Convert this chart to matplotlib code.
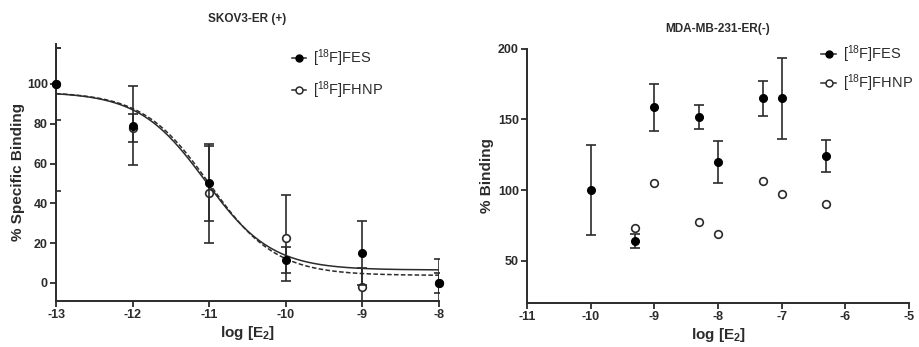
import numpy as np
import matplotlib.pyplot as plt
from matplotlib.lines import Line2D

plt.rcParams['font.family'] = ['Liberation Sans', 'DejaVu Sans']
plt.rcParams['font.weight'] = 'bold'
plt.rcParams['axes.unicode_minus'] = False
plt.rcParams['mathtext.default'] = 'regular'

ink = '#2b2b2b'

# SKOV3-ER (+) competition data
skov_x = [-13, -12, -11, -10, -9, -8]
fes_y = [100, 79, 50, 11.5, 15, 0]
fes_err = [18, 20, 19, 6.5, 16, 12]
fhnp_y = [100, 78, 45, 22.5, -2, 0]
fhnp_err_lo = [54, 7, 25, 21.5, 9.5, 5]
fhnp_err_hi = [18, 7, 25, 21.5, 9.5, 5]

# fitted one-site curves: top, bottom, logIC50
fes_fit = (96.0, 6.5, -11.05)
fhnp_fit = (96.0, 3.8, -11.0)

# MDA-MB-231-ER(-) data
mda_fes_x = [-10, -9.3, -9, -8.3, -8, -7.3, -7, -6.3]
mda_fes_y = [100, 64, 158.5, 152, 120, 165, 165, 124]
mda_fes_err = [32, 5, 16.5, 8.5, 15, 12.5, 28.5, 11.5]
mda_fhnp_x = [-9.3, -9, -8.3, -8, -7.3, -7, -6.3]
mda_fhnp_y = [73, 105, 77.5, 69, 106.5, 97, 90]

fig = plt.figure(figsize=(9.2, 3.47), dpi=100)
ax1 = fig.add_axes([0.061, 0.133, 0.416, 0.74])
ax2 = fig.add_axes([0.573, 0.127, 0.415, 0.732])


def style(ax):
    for s in ['top', 'right']:
        ax.spines[s].set_visible(False)
    for s in ['left', 'bottom']:
        ax.spines[s].set_linewidth(1.4)
        ax.spines[s].set_color(ink)
    ax.tick_params(direction='out', length=4, width=1.3, color=ink,
                   labelsize=9, labelcolor=ink, pad=2)
    for lab in ax.get_xticklabels() + ax.get_yticklabels():
        lab.set_fontweight('bold')


def sigmoid(x, fit):
    top, bottom, logic50 = fit
    return bottom + (top - bottom) / (1 + 10 ** (x - logic50))


# left panel
xs = np.linspace(-13, -8, 300)
ax1.plot(xs, sigmoid(xs, fes_fit), color=ink, lw=1.1)
ax1.plot(xs, sigmoid(xs, fhnp_fit), color=ink, lw=1.1, ls=(0, (3, 1.5)))
eb = ax1.errorbar(skov_x, fhnp_y, yerr=[fhnp_err_lo, fhnp_err_hi], fmt='o',
                  ms=5.5, mfc='white', mec=ink, mew=1.2, ecolor=ink,
                  elinewidth=1.2, capsize=3.5, capthick=1.2, zorder=3)
eb[0].set_clip_on(False)
eb = ax1.errorbar(skov_x, fes_y, yerr=fes_err, fmt='o', ms=5.5, mfc='black',
                  mec='black', ecolor=ink, elinewidth=1.2, capsize=3.5,
                  capthick=1.2, zorder=4)
eb[0].set_clip_on(False)
ax1.set_xlim(-13, -8)
ax1.set_ylim(-9, 120)
ax1.set_xticks([-13, -12, -11, -10, -9, -8])
ax1.set_yticks([0, 20, 40, 60, 80, 100])
style(ax1)
ax1.set_ylabel('% Specific Binding', fontsize=11, fontweight='bold',
               color=ink, labelpad=1)
ax1.set_xlabel('log [E$_2$]', fontsize=11, fontweight='bold',
               color=ink, labelpad=2)
ax1.set_title('SKOV3-ER (+)', fontsize=8.5, fontweight='bold', color=ink,
              pad=16)

# right panel
ax2.errorbar(mda_fes_x, mda_fes_y, yerr=mda_fes_err, fmt='o', ms=5.5,
             mfc='black', mec='black', ecolor=ink, elinewidth=1.2,
             capsize=3.5, capthick=1.2, zorder=4)
ax2.plot(mda_fhnp_x, mda_fhnp_y, 'o', ms=5.5, mfc='white', mec=ink,
         mew=1.2, ls='none', zorder=3)
ax2.set_xlim(-11, -5)
ax2.set_ylim(20, 200)
ax2.set_xticks([-11, -10, -9, -8, -7, -6, -5])
ax2.set_yticks([50, 100, 150, 200])
style(ax2)
ax2.set_ylabel('% Binding', fontsize=11, fontweight='bold', color=ink,
               labelpad=3)
ax2.set_xlabel('log [E$_2$]', fontsize=11, fontweight='bold',
               color=ink, labelpad=2)
ax2.set_title('MDA-MB-231-ER(-)', fontsize=8.5, fontweight='bold',
              color=ink, pad=12)

handles = [
    Line2D([], [], color=ink, lw=1.1, marker='o', ms=5, mfc='black',
           mec='black'),
    Line2D([], [], color=ink, lw=1.1, marker='o', ms=5, mfc='white',
           mec=ink, mew=1.1),
]
labels = ['[$^{18}$F]FES', '[$^{18}$F]FHNP']
for ax, anchor, sp in [(ax1, (0.6, 1.01), 0.75), (ax2, (0.755, 1.045), 0.5)]:
    leg = ax.legend(handles, labels, loc='upper left', bbox_to_anchor=anchor,
                    frameon=False, handlelength=1.0, handletextpad=0.5,
                    labelspacing=sp, fontsize=10.5, borderaxespad=0)
    for t in leg.get_texts():
        t.set_fontweight('normal')
        t.set_color(ink)

fig.savefig('out.png', dpi=100, facecolor='white')
